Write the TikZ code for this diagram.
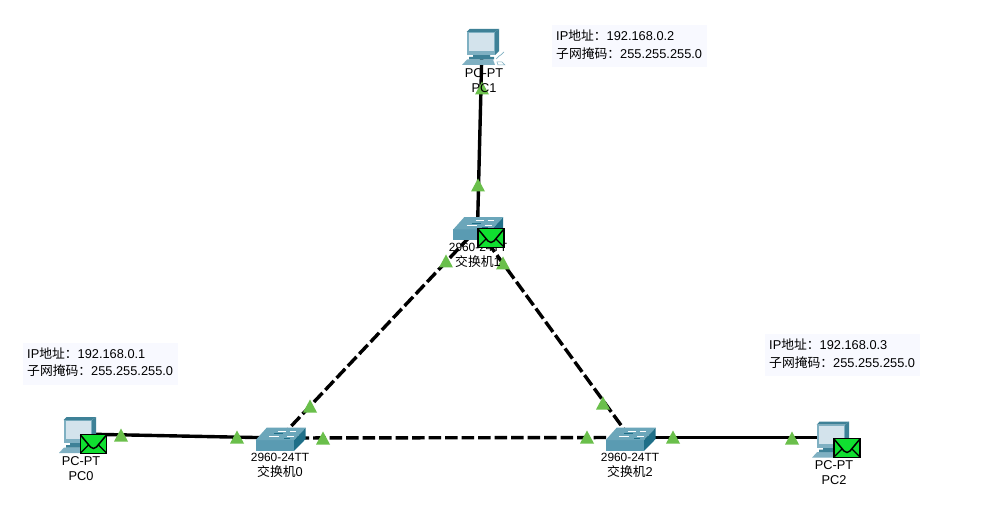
\documentclass[tikz,border=0pt]{standalone}
\usepackage{fontspec}
\setmainfont{Liberation Sans}
\newfontfamily\cjk{Noto Sans CJK SC}
\newcommand{\zh}[1]{{\cjk #1}}
\newcommand{\swname}[1]{{\fontsize{11.9}{15.2}\selectfont #1}}
\definecolor{boxfill}{HTML}{F8F9FF}
\definecolor{tri}{HTML}{6ABF4B}
\definecolor{envgreen}{HTML}{10E030}
\definecolor{swtop}{HTML}{6BA6BA}
\definecolor{swfront}{HTML}{5A9BB2}
\definecolor{swside}{HTML}{1F6F88}
\definecolor{pcdark}{HTML}{3E8197}
\definecolor{pcmid}{HTML}{7FB0C2}
\definecolor{pcscreen}{HTML}{D3E3EC}
\tikzset{
  x=1pt,y=-1pt,
  anchorpt/.style={inner sep=0pt,minimum size=0pt,outer sep=0pt},
  solidlink/.style={line width=3.4pt,black},
  dashlink/.style={line width=3.4pt,black,dash pattern=on 12.5pt off 4pt},
  devlabel/.style={font=\fontsize{12.8}{15.2}\selectfont,align=center,inner sep=0pt,text=black,anchor=north},
  infotext/.style={font=\fontsize{12.8}{15}\selectfont,inner sep=0pt,anchor=west,text=black},
  infobox/.style={fill=boxfill,draw=none},
  pics/pcicon/.style={code={
    \fill[pcmid] (-20,18)--(-15,12.5)--(11,12.5)--(13,18)--cycle;
    \fill[white,draw=pcmid,line width=.5pt] (15,15)--(20,15)--(23,18)--(16,18)--cycle;
    \draw[pcmid,line width=.7pt] (14,12)..controls (18,7) and (21,8) .. (22,5);
    \fill[pcdark] (-9,8)--(8,8)--(8,10)--(12,10)--(12,12.5)--(-13,12.5)--(-13,10)--(-9,10)--cycle;
    \fill[pcdark] (13,-15)--(17,-18)--(17,4)--(13,8)--cycle;
    \fill[pcmid] (-15.3,-15)--(13,-15)--(13,8)--(-15.3,8)--cycle;
    \fill[pcdark] (-15.3,-15)--(-12.5,-18)--(17,-18)--(13,-15)--cycle;
    \fill[pcscreen] (-12.7,-14)--(11.5,-14)--(11.5,4)--(-12.7,4)--cycle;
  }},
  pics/swicon/.style={code={
    \fill[swfront] (-24.3,1)--(14,1)--(14,12)--(-24.3,12)--cycle;
    \fill[swside] (14,1)--(25.7,-11.3)--(25.7,0)--(14,12)--cycle;
    \fill[swtop] (-24.3,1)--(-13.3,-11.3)--(25.7,-11.3)--(14,1)--cycle;
    \draw[white,line width=.8pt] (-2,-8)--(6,-8) (10,-8)--(16,-8) (-11,-3)--(-1,-3) (7,-3)--(14,-3);
    \draw[swside,line width=.6pt] (-6,-5.5)--(3,-5.5) (4,-1)--(10,-1);
  }},
  pics/triangle/.style={code={
    \fill[tri] (-7,6.5)--(0,-6.5)--(7,6.5)--cycle;
  }},
  pics/envelope/.style={code={
    \fill[envgreen,draw=black,line width=1.5pt] (-13.2,-9.5) rectangle (13.2,9.5);
    \draw[black,line width=1.5pt] (-13,-9)--(-3,3)..controls (-1,5) and (1,5)..(3,3)--(13,-9);
    \draw[black,line width=1.2pt] (-13,9)--(-5,1) (13,9)--(5,1);
  }}
}
\begin{document}
\begin{tikzpicture}
\useasboundingbox (0,0) rectangle (997,513);
\fill[white] (0,0) rectangle (997,513);
\node[anchorpt] (pc0) at (79,434) {};
\node[anchorpt] (pc1) at (482,47) {};
\node[anchorpt] (pc2) at (832,437.5) {};
\node[anchorpt] (sw0) at (280,438) {};
\node[anchorpt] (sw1) at (477.5,228.5) {};
\node[anchorpt] (sw2) at (630,437.5) {};
\fill[infobox] (23,343) rectangle (178,385);
\fill[infobox] (552,25) rectangle (707,67);
\fill[infobox] (765,334) rectangle (920,376);
\node[infotext] (i0a) at (27,353.5) {IP\zh{地址：}192.168.0.1};
\node[infotext] (i0b) at (27,371) {\zh{子网掩码：}255.255.255.0};
\node[infotext] (i1a) at (556,35.5) {IP\zh{地址：}192.168.0.2};
\node[infotext] (i1b) at (556,54) {\zh{子网掩码：}255.255.255.0};
\node[infotext] (i2a) at (769,344.5) {IP\zh{地址：}192.168.0.3};
\node[infotext] (i2b) at (769,363) {\zh{子网掩码：}255.255.255.0};
\draw[solidlink] (pc1.center) -- (sw1.center);
\draw[solidlink] (pc0.center) -- (sw0.center);
\draw[solidlink] (sw2.center) -- (pc2.center);
\draw[dashlink] (sw0.center) -- (sw1.center);
\draw[dashlink] (sw1.center) -- (sw2.center);
\draw[dashlink] (sw0.center) -- (sw2.center);
\pic at (79,435) {pcicon};
\pic at (482,47) {pcicon};
\pic at (832,439.7) {pcicon};
\pic at (280,439) {swicon};
\pic at (477.5,228.5) {swicon};
\pic at (630,439) {swicon};
\foreach \p in {(121,435),(237,437),(323,438),(587,437),(673,437),(792,438),(310,406),(446,261),(503,263),(603,403),(478,185),(482,88)}
  \pic at \p {triangle};
\node[devlabel] (l0) at (81,456.5) {PC-PT\\PC0};
\node[devlabel] (l1) at (484,68.5) {PC-PT\\PC1};
\node[devlabel] (l2) at (834,460.5) {PC-PT\\PC2};
\node[devlabel] (l3) at (280,453) {\swname{2960-24TT}\\\zh{交换机}0};
\node[devlabel] (l4) at (478,243) {\swname{2960-24TT}\\\zh{交换机}1};
\node[devlabel] (l5) at (630,453) {\swname{2960-24TT}\\\zh{交换机}2};
\pic at (93.5,444) {envelope};
\pic at (491,238) {envelope};
\pic at (847,448) {envelope};
\end{tikzpicture}
\end{document}
